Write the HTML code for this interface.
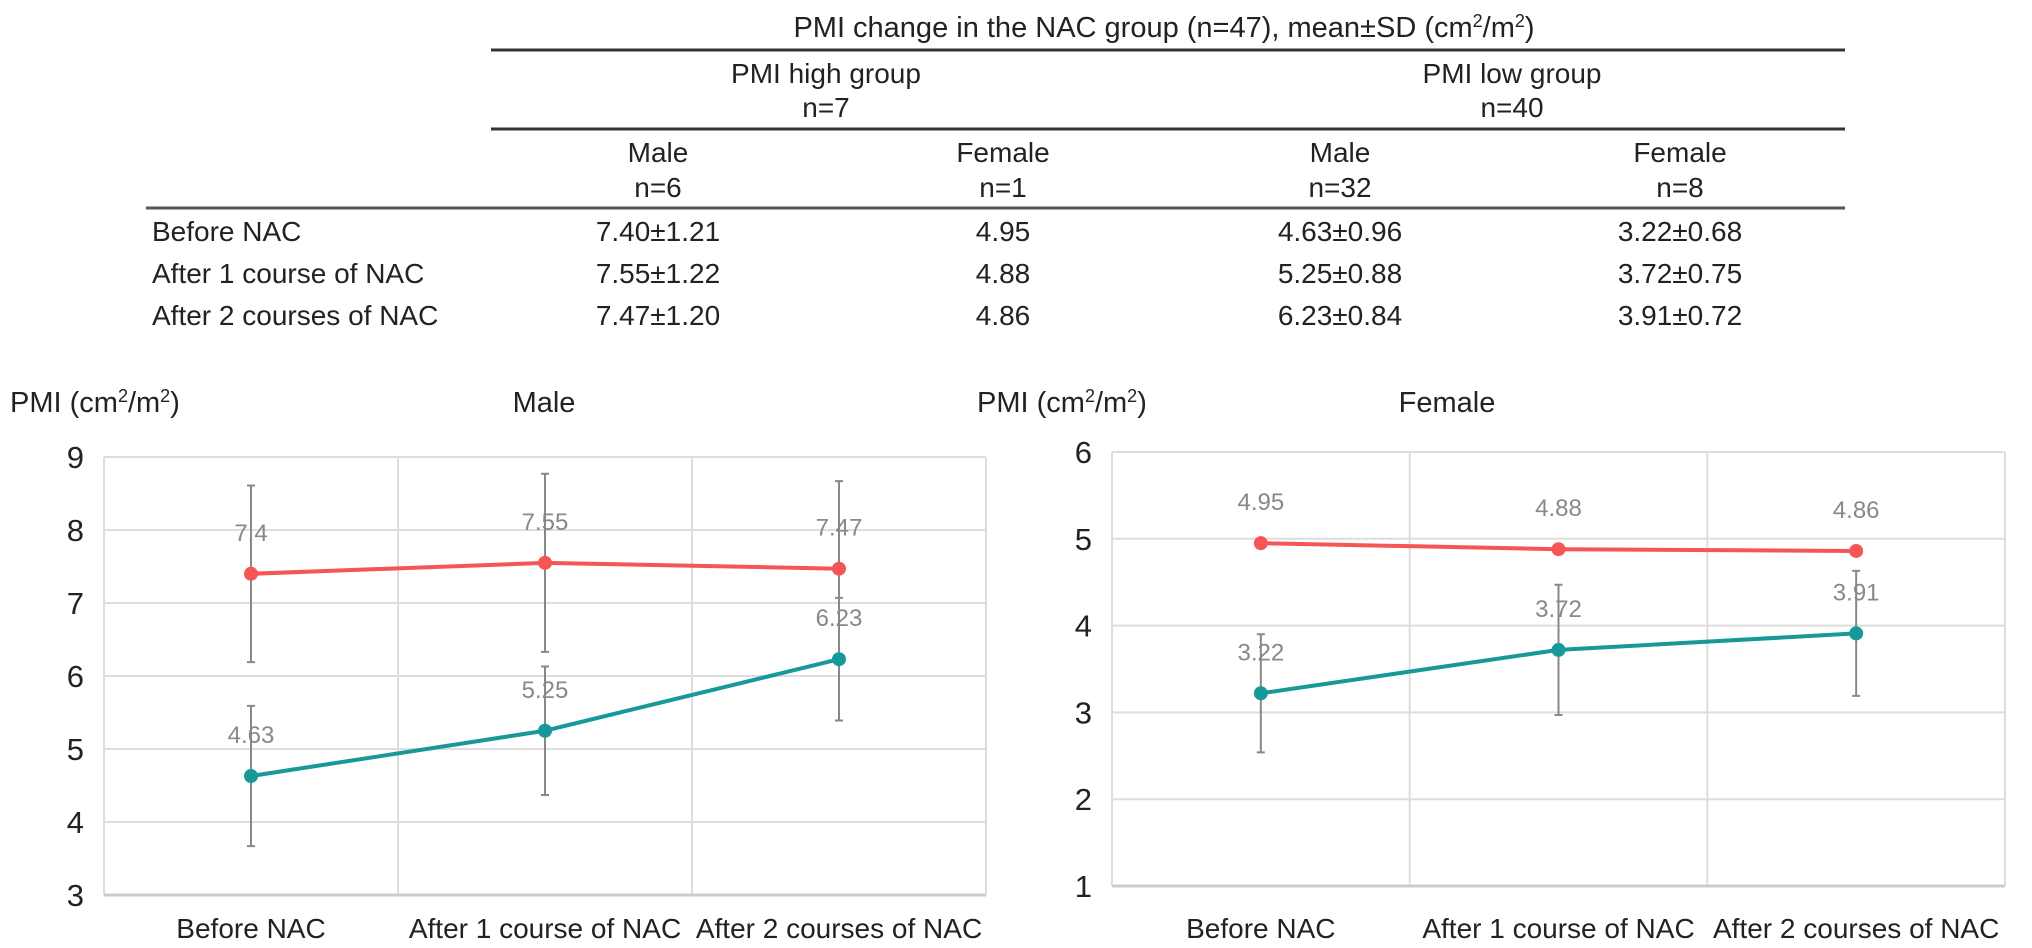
<!DOCTYPE html>
<html><head><meta charset="utf-8"><style>
html,body{margin:0;padding:0;background:#fff;width:2032px;height:948px;overflow:hidden;font-family:"Liberation Sans",Arial,sans-serif;}
svg{display:block}
</style></head><body>
<svg id="fig" width="2032" height="948" xmlns="http://www.w3.org/2000/svg">
<g id="table" font-family="Liberation Sans, Arial, sans-serif" font-size="28" fill="#222">
<text x="1164" y="37" text-anchor="middle" font-size="29">PMI change in the NAC group (n=47), mean±SD (cm<tspan font-size="18" dy="-10">2</tspan><tspan dy="10">/m</tspan><tspan font-size="18" dy="-10">2</tspan><tspan dy="10">)</tspan></text>
<line x1="491" y1="50" x2="1845" y2="50" stroke="#333" stroke-width="3"/>
<text x="826" y="83" text-anchor="middle">PMI high group</text>
<text x="826" y="117" text-anchor="middle">n=7</text>
<text x="1512" y="83" text-anchor="middle">PMI low group</text>
<text x="1512" y="117" text-anchor="middle">n=40</text>
<line x1="491" y1="129" x2="1845" y2="129" stroke="#333" stroke-width="3"/>
<g id="colheads"></g>
<line x1="146" y1="208" x2="1845" y2="208" stroke="#555" stroke-width="3"/>
<g id="rows"></g>
</g>
<g id="male-chart"></g>
<g id="female-chart"></g>
</svg>
<script>
const NS="http://www.w3.org/2000/svg";
const categories=["Before NAC","After 1 course of NAC","After 2 courses of NAC"];
const maleHigh=[7.40,7.55,7.47];
const maleHighSD=[1.21,1.22,1.20];
const maleLow=[4.63,5.25,6.23];
const maleLowSD=[0.96,0.88,0.84];
const femaleHigh=[4.95,4.88,4.86];
const femaleLow=[3.22,3.72,3.91];
const femaleLowSD=[0.68,0.75,0.72];
const maleTicks=[3,4,5,6,7,8,9];
const femaleTicks=[1,2,3,4,5,6];
const colHeads=[["Male","n=6"],["Female","n=1"],["Male","n=32"],["Female","n=8"]];
const tableRows=[["7.40±1.21","4.95","4.63±0.96","3.22±0.68"],["7.55±1.22","4.88","5.25±0.88","3.72±0.75"],["7.47±1.20","4.86","6.23±0.84","3.91±0.72"]];

function el(tag,attrs,parent){const e=document.createElementNS(NS,tag);for(const k in attrs)e.setAttribute(k,attrs[k]);parent.appendChild(e);return e;}

const colX=[658,1003,1340,1680];
const ch=document.getElementById('colheads');
colHeads.forEach((h,i)=>{
  const t1=el('text',{x:colX[i],y:162,'text-anchor':'middle'},ch);t1.textContent=h[0];
  
  
  const t2=el('text',{x:colX[i],y:197,'text-anchor':'middle'},ch);t2.textContent=h[1];
  
  
});
const rg=document.getElementById('rows');
const rowY=[241,283,325];
tableRows.forEach((r,j)=>{
  const lab=el('text',{x:152,y:rowY[j]},rg);lab.textContent=categories[j];
  
  
  r.forEach((v,i)=>{
    const c=el('text',{x:colX[i],y:rowY[j],'text-anchor':'middle'},rg);c.textContent=v;
    
    
  });
});

function chart(g,o){
  const {L,R,T,B,min,max,ticks,title,yTitleX,titleX,series}=o;
  const y=v=>B-(v-min)/(max-min)*(B-T);
  const band=(R-L)/categories.length;
  const x=i=>L+band*(i+0.5);
  const yt=el('text',{x:yTitleX,y:412,'font-size':29,fill:'#222'},g);
  yt.innerHTML='PMI (cm<tspan font-size="18" dy="-10">2</tspan><tspan dy="10">/m</tspan><tspan font-size="18" dy="-10">2</tspan><tspan dy="10">)</tspan>';
  
  
  const tt=el('text',{x:titleX,y:412,'font-size':29,fill:'#222','text-anchor':'middle'},g);tt.textContent=title;
  
  
  ticks.forEach(t=>{
    const gl=el('line',{x1:L,x2:R,y1:y(t),y2:y(t),stroke:'#ddd','stroke-width':2},g);
    
    
    const tl=el('text',{x:L-20,y:y(t)+11,'font-size':31,fill:'#222','text-anchor':'end'},g);tl.textContent=t;
    
    
  });
  for(let i=0;i<=categories.length;i++){
    const vl=el('line',{x1:L+band*i,x2:L+band*i,y1:T,y2:B,stroke:'#ddd','stroke-width':2},g);
    
    
  }
  const ax=el('line',{x1:L,x2:R,y1:B,y2:B,stroke:'#ccc','stroke-width':3},g);
  
  
  categories.forEach((c,i)=>{
    const xl=el('text',{x:x(i),y:938,'font-size':28,fill:'#222','text-anchor':'middle'},g);xl.textContent=c;
    
    
  });
  series.forEach(s=>{
    if(s.sd){s.vals.forEach((v,i)=>{
      const a=y(v+s.sd[i]),b=y(v-s.sd[i]),cx=x(i);
      const eb=el('path',{d:`M${cx},${a}V${b}M${cx-4},${a}H${cx+4}M${cx-4},${b}H${cx+4}`,stroke:'#888','stroke-width':2,fill:'none'},g);
      
      
    });}
    const ln=el('polyline',{points:s.vals.map((v,i)=>x(i)+','+y(v)).join(' '),fill:'none',stroke:s.color,'stroke-width':4},g);
    
    
    s.vals.forEach((v,i)=>{
      const p=el('circle',{cx:x(i),cy:y(v),r:7,fill:s.color},g);
      
      
      const dl=el('text',{x:x(i),y:y(v)-33,'font-size':24,fill:'#888','text-anchor':'middle'},g);
      dl.textContent=String(+v.toFixed(2));
      
      
    });
  });
}
chart(document.getElementById('male-chart'),{L:104,R:986,T:457,B:895,min:3,max:9,ticks:maleTicks,title:'Male',yTitleX:10,titleX:544,
  series:[{name:'pmi-high',vals:maleHigh,sd:maleHighSD,color:'#f65555'},{name:'pmi-low',vals:maleLow,sd:maleLowSD,color:'#17999a'}]});
chart(document.getElementById('female-chart'),{L:1112,R:2005,T:452,B:886,min:1,max:6,ticks:femaleTicks,title:'Female',yTitleX:977,titleX:1447,
  series:[{name:'pmi-high',vals:femaleHigh,sd:null,color:'#f65555'},{name:'pmi-low',vals:femaleLow,sd:femaleLowSD,color:'#17999a'}]});
</script>
</body></html>
